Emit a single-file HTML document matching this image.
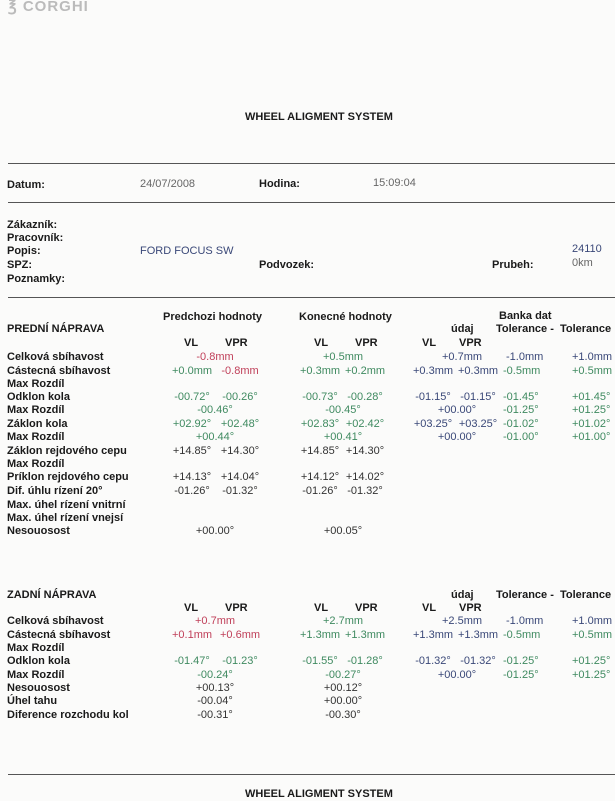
<!DOCTYPE html>
<html><head><meta charset="utf-8"><style>
html,body{margin:0;padding:0;background:#fbfbfa;}
body{width:615px;height:800px;position:relative;overflow:hidden;font-family:"Liberation Sans",sans-serif;font-size:11px;color:#222;}
.t{position:absolute;white-space:nowrap;line-height:13px;}
.b{font-weight:bold;color:#1a1a1a;}
.c{transform:translateX(-50%);}
.r{color:#c0405a;}
.g{color:#3f8a60;}
.n{color:#3a4878;}
.k{color:#333;}
.gy{color:#666;}
.hr{position:absolute;left:8px;right:0;height:1px;background:#555;}
</style></head><body>
<div class="t" style="left:8px;top:0;font-size:15px;color:#bbb;font-weight:bold;letter-spacing:1px">℥ CORGHI</div>
<div class="t b" style="left:245px;top:111px">WHEEL ALIGMENT SYSTEM</div>
<div class="hr" style="top:163px"></div>
<div class="t b" style="left:7px;top:179px">Datum:</div>
<div class="t gy" style="left:140px;top:178px">24/07/2008</div>
<div class="t b" style="left:259px;top:178px">Hodina:</div>
<div class="t gy" style="left:373px;top:177px">15:09:04</div>
<div class="hr" style="top:202px"></div>
<div class="t b" style="left:7px;top:219px">Zákazník:</div>
<div class="t b" style="left:7px;top:232px">Pracovník:</div>
<div class="t b" style="left:7px;top:245px">Popis:</div>
<div class="t b" style="left:7px;top:259px">SPZ:</div>
<div class="t b" style="left:7px;top:273px">Poznamky:</div>
<div class="t n" style="left:140px;top:245px">FORD FOCUS SW</div>
<div class="t b" style="left:259px;top:259px">Podvozek:</div>
<div class="t b" style="left:492px;top:259px">Prubeh:</div>
<div class="t n" style="left:572px;top:243px">24110</div>
<div class="t gy" style="left:572px;top:257px">0km</div>
<div class="hr" style="top:297px"></div>

<div class="t b" style="left:163px;top:311px">Predchozi hodnoty</div>
<div class="t b" style="left:299px;top:311px">Konecné hodnoty</div>
<div class="t b" style="left:499px;top:310px">Banka dat</div>
<div class="t b" style="left:7px;top:323px">PREDNÍ NÁPRAVA</div>
<div class="t b" style="left:451px;top:323px">údaj</div>
<div class="t b" style="left:496px;top:323px">Tolerance - &nbsp;Tolerance</div>
<div class="t b" style="left:184px;top:337px">VL</div><div class="t b" style="left:225px;top:337px">VPR</div>
<div class="t b" style="left:314px;top:337px">VL</div><div class="t b" style="left:355px;top:337px">VPR</div>
<div class="t b" style="left:422px;top:337px">VL</div><div class="t b" style="left:459px;top:337px">VPR</div>

<div class="t b" style="left:7px;top:351px">Celková sbíhavost</div>
<div class="t b" style="left:7px;top:365px">Cástecná sbíhavost</div>
<div class="t b" style="left:7px;top:378px">Max Rozdíl</div>
<div class="t b" style="left:7px;top:391px">Odklon kola</div>
<div class="t b" style="left:7px;top:404px">Max Rozdíl</div>
<div class="t b" style="left:7px;top:418px">Záklon kola</div>
<div class="t b" style="left:7px;top:431px">Max Rozdíl</div>
<div class="t b" style="left:7px;top:445px">Záklon rejdového cepu</div>
<div class="t b" style="left:7px;top:458px">Max Rozdíl</div>
<div class="t b" style="left:7px;top:471px">Príklon rejdového cepu</div>
<div class="t b" style="left:7px;top:485px">Dif. úhlu rízení 20°</div>
<div class="t b" style="left:7px;top:499px">Max. úhel rízení vnitrní</div>
<div class="t b" style="left:7px;top:512px">Max. úhel rízení vnejsí</div>
<div class="t b" style="left:7px;top:525px">Nesouosost</div>

<div class="t c r" style="left:215px;top:351px">-0.8mm</div>
<div class="t c g" style="left:343px;top:351px">+0.5mm</div>
<div class="t c n" style="left:462px;top:351px">+0.7mm</div>
<div class="t n" style="left:506px;top:351px">-1.0mm</div>
<div class="t n" style="left:572px;top:351px">+1.0mm</div>
<div class="t c g" style="left:192px;top:365px">+0.0mm</div><div class="t c r" style="left:240px;top:365px">-0.8mm</div>
<div class="t c g" style="left:320px;top:365px">+0.3mm</div><div class="t c g" style="left:365px;top:365px">+0.2mm</div>
<div class="t c n" style="left:433px;top:365px">+0.3mm</div><div class="t c n" style="left:478px;top:365px">+0.3mm</div>
<div class="t g" style="left:503px;top:365px">-0.5mm</div><div class="t g" style="left:572px;top:365px">+0.5mm</div>

<div class="t c g" style="left:192px;top:391px">-00.72°</div><div class="t c g" style="left:240px;top:391px">-00.26°</div>
<div class="t c g" style="left:320px;top:391px">-00.73°</div><div class="t c g" style="left:365px;top:391px">-00.28°</div>
<div class="t c n" style="left:433px;top:391px">-01.15°</div><div class="t c n" style="left:478px;top:391px">-01.15°</div>
<div class="t g" style="left:503px;top:391px">-01.45°</div><div class="t g" style="left:572px;top:391px">+01.45°</div>
<div class="t c g" style="left:215px;top:404px">-00.46°</div>
<div class="t c g" style="left:343px;top:404px">-00.45°</div>
<div class="t c n" style="left:457px;top:404px">+00.00°</div>
<div class="t g" style="left:503px;top:404px">-01.25°</div><div class="t g" style="left:572px;top:404px">+01.25°</div>
<div class="t c g" style="left:192px;top:418px">+02.92°</div><div class="t c g" style="left:240px;top:418px">+02.48°</div>
<div class="t c g" style="left:320px;top:418px">+02.83°</div><div class="t c g" style="left:365px;top:418px">+02.42°</div>
<div class="t c n" style="left:433px;top:418px">+03.25°</div><div class="t c n" style="left:478px;top:418px">+03.25°</div>
<div class="t g" style="left:503px;top:418px">-01.02°</div><div class="t g" style="left:572px;top:418px">+01.02°</div>
<div class="t c g" style="left:215px;top:431px">+00.44°</div>
<div class="t c g" style="left:343px;top:431px">+00.41°</div>
<div class="t c n" style="left:457px;top:431px">+00.00°</div>
<div class="t g" style="left:503px;top:431px">-01.00°</div><div class="t g" style="left:572px;top:431px">+01.00°</div>
<div class="t c k" style="left:192px;top:445px">+14.85°</div><div class="t c k" style="left:240px;top:445px">+14.30°</div>
<div class="t c k" style="left:320px;top:445px">+14.85°</div><div class="t c k" style="left:365px;top:445px">+14.30°</div>
<div class="t c k" style="left:192px;top:471px">+14.13°</div><div class="t c k" style="left:240px;top:471px">+14.04°</div>
<div class="t c k" style="left:320px;top:471px">+14.12°</div><div class="t c k" style="left:365px;top:471px">+14.02°</div>
<div class="t c k" style="left:192px;top:485px">-01.26°</div><div class="t c k" style="left:240px;top:485px">-01.32°</div>
<div class="t c k" style="left:320px;top:485px">-01.26°</div><div class="t c k" style="left:365px;top:485px">-01.32°</div>
<div class="t c k" style="left:215px;top:525px">+00.00°</div>
<div class="t c k" style="left:343px;top:525px">+00.05°</div>

<div class="t b" style="left:7px;top:589px">ZADNÍ NÁPRAVA</div>
<div class="t b" style="left:451px;top:589px">údaj</div>
<div class="t b" style="left:496px;top:589px">Tolerance - &nbsp;Tolerance</div>
<div class="t b" style="left:184px;top:602px">VL</div><div class="t b" style="left:225px;top:602px">VPR</div>
<div class="t b" style="left:314px;top:602px">VL</div><div class="t b" style="left:355px;top:602px">VPR</div>
<div class="t b" style="left:422px;top:602px">VL</div><div class="t b" style="left:459px;top:602px">VPR</div>
<div class="t b" style="left:7px;top:615px">Celková sbíhavost</div>
<div class="t b" style="left:7px;top:629px">Cástecná sbíhavost</div>
<div class="t b" style="left:7px;top:642px">Max Rozdíl</div>
<div class="t b" style="left:7px;top:655px">Odklon kola</div>
<div class="t b" style="left:7px;top:669px">Max Rozdíl</div>
<div class="t b" style="left:7px;top:682px">Nesouosost</div>
<div class="t b" style="left:7px;top:695px">Úhel tahu</div>
<div class="t b" style="left:7px;top:709px">Diference rozchodu kol</div>

<div class="t c r" style="left:215px;top:615px">+0.7mm</div>
<div class="t c g" style="left:343px;top:615px">+2.7mm</div>
<div class="t c n" style="left:462px;top:615px">+2.5mm</div>
<div class="t n" style="left:506px;top:615px">-1.0mm</div><div class="t n" style="left:572px;top:615px">+1.0mm</div>
<div class="t c r" style="left:192px;top:629px">+0.1mm</div><div class="t c r" style="left:240px;top:629px">+0.6mm</div>
<div class="t c g" style="left:320px;top:629px">+1.3mm</div><div class="t c g" style="left:365px;top:629px">+1.3mm</div>
<div class="t c n" style="left:433px;top:629px">+1.3mm</div><div class="t c n" style="left:478px;top:629px">+1.3mm</div>
<div class="t g" style="left:503px;top:629px">-0.5mm</div><div class="t g" style="left:572px;top:629px">+0.5mm</div>
<div class="t c g" style="left:192px;top:655px">-01.47°</div><div class="t c g" style="left:240px;top:655px">-01.23°</div>
<div class="t c g" style="left:320px;top:655px">-01.55°</div><div class="t c g" style="left:365px;top:655px">-01.28°</div>
<div class="t c n" style="left:433px;top:655px">-01.32°</div><div class="t c n" style="left:478px;top:655px">-01.32°</div>
<div class="t g" style="left:503px;top:655px">-01.25°</div><div class="t g" style="left:572px;top:655px">+01.25°</div>
<div class="t c g" style="left:215px;top:669px">-00.24°</div>
<div class="t c g" style="left:343px;top:669px">-00.27°</div>
<div class="t c n" style="left:457px;top:669px">+00.00°</div>
<div class="t g" style="left:503px;top:669px">-01.25°</div><div class="t g" style="left:572px;top:669px">+01.25°</div>
<div class="t c k" style="left:215px;top:682px">+00.13°</div><div class="t c k" style="left:343px;top:682px">+00.12°</div>
<div class="t c k" style="left:215px;top:695px">-00.04°</div><div class="t c k" style="left:343px;top:695px">+00.00°</div>
<div class="t c k" style="left:215px;top:709px">-00.31°</div><div class="t c k" style="left:343px;top:709px">-00.30°</div>

<div class="hr" style="top:774px"></div>
<div class="t b" style="left:245px;top:788px">WHEEL ALIGMENT SYSTEM</div>
</body></html>
